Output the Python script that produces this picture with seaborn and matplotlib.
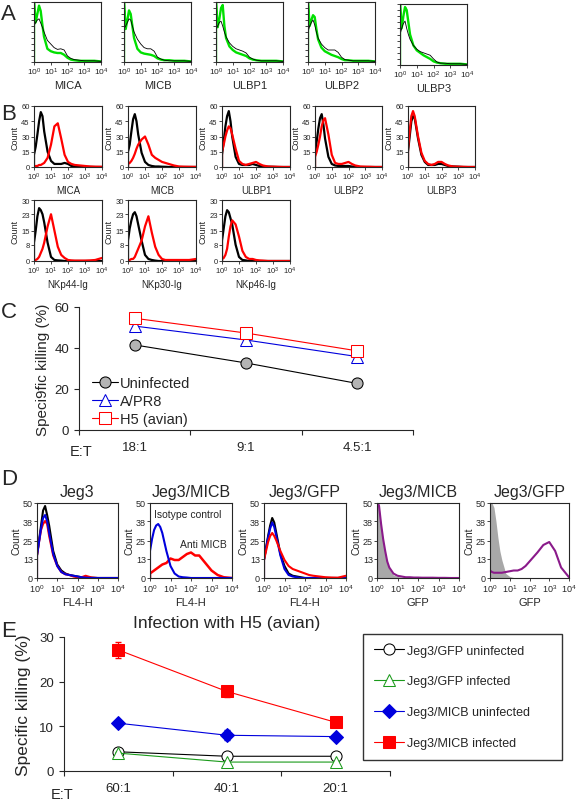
import numpy as np
import matplotlib
matplotlib.use('Agg')
import matplotlib.pyplot as plt
from matplotlib.ticker import LogLocator, NullFormatter, NullLocator
import seaborn as sns

# log10 bin positions shared by all flow histograms
LOG_BINS = [0, 0.1, 0.2, 0.3, 0.4, 0.5, 0.6, 0.8, 1.0, 1.2, 1.4, 1.6, 1.8, 2.0, 2.2, 2.4, 2.7, 3.0, 3.3, 3.6, 4.0]

# ---- panel A (relative counts)
A_NAMES = ['MICA', 'MICB', 'ULBP1', 'ULBP2', 'ULBP3']
A_MICA_K = [0.6, 0.66, 0.7, 0.72, 0.65, 0.58, 0.5, 0.36, 0.3, 0.24, 0.21, 0.22, 0.2, 0.1, 0.06, 0.04, 0.03, 0.02, 0.02, 0.02, 0.01]
A_MICA_G = [1.0, 0.66, 0.8, 0.94, 0.85, 0.62, 0.42, 0.22, 0.18, 0.16, 0.15, 0.15, 0.12, 0.07, 0.04, 0.03, 0.02, 0.02, 0.02, 0.02, 0.01]
A_MICB_K = [0.55, 0.6, 0.66, 0.72, 0.7, 0.6, 0.5, 0.38, 0.3, 0.24, 0.22, 0.22, 0.18, 0.08, 0.05, 0.03, 0.02, 0.02, 0.02, 0.02, 0.01]
A_MICB_G = [1.0, 0.55, 0.7, 0.86, 0.8, 0.6, 0.4, 0.22, 0.16, 0.14, 0.13, 0.12, 0.1, 0.06, 0.04, 0.03, 0.03, 0.02, 0.02, 0.02, 0.01]
A_ULBP1_K = [0.55, 0.6, 0.66, 0.68, 0.6, 0.5, 0.42, 0.32, 0.26, 0.22, 0.2, 0.18, 0.15, 0.08, 0.05, 0.03, 0.02, 0.02, 0.02, 0.02, 0.01]
A_ULBP1_G = [1.0, 0.58, 0.72, 0.9, 0.95, 0.6, 0.4, 0.26, 0.2, 0.16, 0.14, 0.12, 0.1, 0.06, 0.04, 0.03, 0.02, 0.02, 0.02, 0.02, 0.01]
A_ULBP2_K = [0.5, 0.6, 0.66, 0.7, 0.62, 0.5, 0.4, 0.3, 0.24, 0.2, 0.2, 0.2, 0.16, 0.08, 0.04, 0.03, 0.02, 0.02, 0.02, 0.02, 0.01]
A_ULBP2_G = [1.0, 0.6, 0.7, 0.78, 0.75, 0.55, 0.38, 0.24, 0.18, 0.15, 0.12, 0.1, 0.08, 0.05, 0.03, 0.03, 0.02, 0.02, 0.02, 0.02, 0.01]
A_ULBP3_K = [0.5, 0.6, 0.68, 0.72, 0.6, 0.5, 0.42, 0.32, 0.26, 0.22, 0.2, 0.18, 0.16, 0.1, 0.05, 0.03, 0.03, 0.02, 0.02, 0.02, 0.01]
A_ULBP3_G = [1.0, 0.6, 0.8, 0.95, 0.9, 0.7, 0.5, 0.32, 0.24, 0.2, 0.16, 0.13, 0.1, 0.06, 0.04, 0.03, 0.02, 0.02, 0.02, 0.02, 0.01]

# ---- panel B (counts)
B_NAMES = ['MICA', 'MICB', 'ULBP1', 'ULBP2', 'ULBP3', 'NKp44-Ig', 'NKp30-Ig', 'NKp46-Ig']
B_MICA_K = [12, 20, 32, 45, 54, 50, 35, 15, 6, 3, 3, 3, 4, 3, 1, 0.5, 0.3, 0.2, 0.1, 0, 0]
B_MICA_R = [0.5, 1, 1, 2, 2, 3, 4, 9, 22, 40, 43, 28, 12, 5, 3, 2, 1.5, 1, 0.5, 0.3, 0.2]
B_MICB_K = [15, 22, 35, 47, 52, 45, 32, 14, 5, 2, 1, 0.5, 0.5, 0.3, 0.2, 0, 0, 0, 0, 0, 0]
B_MICB_R = [3, 4, 6, 9, 13, 18, 22, 27, 30, 22, 12, 9, 7, 5, 4, 3, 1.5, 0.5, 0.3, 0.2, 0.1]
B_ULBP1_K = [12, 25, 40, 50, 55, 45, 30, 10, 3, 2, 2, 2, 3, 2, 1, 0.5, 0.3, 0.2, 0, 0, 0]
B_ULBP1_R = [15, 22, 30, 36, 40, 38, 32, 18, 6, 3, 2, 3, 4, 5, 3, 1.5, 0.5, 0.3, 0.2, 0, 0]
B_ULBP2_K = [12, 25, 38, 48, 52, 42, 28, 10, 3, 1.5, 1, 1, 1, 1, 0.5, 0.3, 0, 0, 0, 0, 0]
B_ULBP2_R = [10, 15, 22, 30, 40, 46, 48, 32, 12, 4, 3, 3, 4, 5, 3, 1.5, 0.5, 0.3, 0.2, 0, 0]
B_ULBP3_K = [15, 30, 45, 50, 48, 38, 28, 12, 5, 2, 2, 2, 3, 3, 2, 1, 0.5, 0.3, 0, 0, 0]
B_ULBP3_R = [18, 35, 50, 55, 50, 40, 30, 14, 6, 3, 2, 3, 5, 5, 3, 1.5, 0.5, 0.3, 0.2, 0, 0]
B_NKP44_K = [9, 15, 22, 26, 25, 23, 19, 9, 2, 0.5, 0.3, 0.2, 0, 0, 0, 0, 0, 0, 0, 0, 0]
B_NKP44_R = [0.5, 0.5, 1, 2, 4, 6, 9, 17, 23, 15, 7, 3, 1.5, 0.5, 0.3, 0.2, 0.2, 0.2, 0.3, 0.5, 1.5]
B_NKP30_K = [10, 16, 20, 23, 24, 22, 18, 10, 3, 1, 0.5, 0.2, 0, 0, 0, 0, 0, 0, 0, 0, 0]
B_NKP30_R = [0.5, 0.5, 1, 1, 2, 4, 6, 10, 17, 22, 14, 7, 3, 1, 0.5, 0.5, 0.5, 0.5, 0.5, 0.5, 1]
B_NKP46_K = [10, 16, 22, 25, 24, 21, 18, 8, 2, 0.5, 0.3, 0, 0, 0, 0, 0, 0, 0, 0, 0, 0]
B_NKP46_R = [1, 1.5, 3, 6, 12, 17, 20, 18, 12, 5, 2, 1, 1, 0.5, 0.3, 0.2, 0, 0, 0, 0, 0]

# ---- panel C
C_RATIOS = ['18:1', '9:1', '4.5:1']
C_UNINFECTED = [41.5, 32.7, 22.7]
C_APR8 = [50.7, 43.9, 35.8]
C_H5 = [54.5, 47.3, 38.6]

# ---- panel D (counts)
D_TITLES = ['Jeg3', 'Jeg3/MICB', 'Jeg3/GFP', 'Jeg3/MICB', 'Jeg3/GFP']
D_XLABELS = ['FL4-H', 'FL4-H', 'FL4-H', 'GFP', 'GFP']
D_JEG3_K = [15, 25, 35, 45, 48, 42, 35, 18, 9, 5, 3, 2, 1.5, 1, 0.5, 0.3, 0.2, 0, 0, 0, 0]
D_JEG3_R = [15, 24, 32, 36, 38, 36, 28, 15, 8, 4, 2.5, 2, 1, 0.5, 0.5, 1.5, 0.3, 0, 0, 0, 0]
D_JEG3_B = [15, 24, 33, 40, 42, 38, 30, 16, 8, 4, 2.5, 2, 1.5, 1, 0.5, 0.2, 0, 0, 0, 0, 0]
D_MICB_ISO = [18, 26, 32, 35, 36, 34, 30, 18, 8, 3, 1, 0.5, 0.3, 0, 0, 0, 0, 0, 0, 0, 0]
D_MICB_ANTI = [3, 4, 5, 6, 7, 8, 9, 10, 13, 12, 12, 14, 16, 17, 15, 15, 10, 5, 2, 0.5, 0]
D_GFP_K = [12, 20, 28, 35, 40, 37, 30, 16, 8, 3, 1.5, 1, 0.5, 0, 0, 0, 0, 0, 0, 0, 0]
D_GFP_B = [12, 20, 27, 33, 37, 34, 28, 15, 6, 2, 1, 0.5, 0, 0, 0, 0, 0, 0, 0, 0, 0]
D_GFP_R = [12, 18, 24, 28, 30, 28, 25, 18, 12, 8, 6, 5, 4, 3, 2, 1.5, 1, 0.5, 0.3, 0.2, 1.5]
D_MICB_GFP_CTRL = [52, 48, 35, 25, 17, 10, 6, 2, 1, 0.5, 0.3, 0, 0, 0, 0, 0, 0, 0, 0, 0, 0]
D_MICB_GFP = [52, 48, 36, 26, 18, 11, 7, 3, 1.5, 1, 0.5, 0.5, 0.3, 0.3, 0.2, 0.2, 0.2, 0.1, 0.1, 0, 0]
D_GFP_GFP_CTRL = [52, 50, 47, 38, 27, 18, 12, 3, 1, 0.3, 0, 0, 0, 0, 0, 0, 0, 0, 0, 0, 0]
D_GFP_GFP = [5, 4, 3.5, 3.5, 3.5, 3.5, 3.5, 4, 4.5, 5, 5, 6, 8, 11, 14, 17, 22, 24, 18, 7, 0.5]

# ---- panel E
E_RATIOS = ['60:1', '40:1', '20:1']
E_GFP_UNINF = [4.3, 3.3, 3.3]
E_GFP_UNINF_ERR = [0.2, 0.2, 0.2]
E_GFP_INF = [4.0, 2.0, 2.0]
E_GFP_INF_ERR = [0.3, 0.3, 0.3]
E_MICB_UNINF = [10.7, 8.0, 7.7]
E_MICB_UNINF_ERR = [0.4, 1.1, 0.3]
E_MICB_INF = [27.1, 17.8, 10.9]
E_MICB_INF_ERR = [1.7, 1.3, 1.0]

W, H = 576, 804
BLACK, RED, BLUE, GREEN = 'black', '#ff0000', '#0000dd', '#00e000'
PURPLE, GREY = '#8a1a8a', '#a8a8a8'

sns.set_style('ticks')
plt.rcParams['font.family'] = ['Liberation Sans', 'DejaVu Sans']
plt.rcParams['axes.linewidth'] = 0.8

fig = plt.figure(figsize=(W / 100, H / 100), dpi=100)


def px_axes(x0, y0, x1, y1):
    return fig.add_axes([x0 / W, 1 - y1 / H, (x1 - x0) / W, (y1 - y0) / H])


def flow_axes(ax, ymax, yticks, xlabel, fs, minor=False):
    ax.set_xscale('log')
    ax.set_xlim(1, 1e4)
    ax.set_ylim(0, ymax)
    ax.set_xticks([1, 10, 100, 1000, 10000])
    if minor:
        ax.xaxis.set_minor_locator(LogLocator(base=10, subs=np.arange(2, 10)))
        ax.xaxis.set_minor_formatter(NullFormatter())
    else:
        ax.xaxis.set_minor_locator(NullLocator())
    if yticks is None:
        ax.set_yticks(np.linspace(0, ymax, 11))
        ax.set_yticklabels([])
    else:
        ax.set_yticks(yticks)
        ax.set_yticklabels([str(t) for t in yticks])
        ax.set_ylabel('Count', fontsize=fs + 1, labelpad=1)
    ax.tick_params(length=2, width=0.6, labelsize=fs, pad=1)
    ax.tick_params(which='minor', length=1.2, width=0.5)
    ax.set_xlabel(xlabel, fontsize=fs + 1.5, labelpad=2)


def flow_line(ax, counts, color, lw=1.5):
    x = np.concatenate([[1.0], 10 ** np.array(LOG_BINS)])
    y = np.concatenate([[0.0], counts])
    sns.lineplot(x=x, y=y, ax=ax, color=color, lw=lw, estimator=None, sort=False)


def flow_fill(ax, counts):
    x = np.concatenate([[1.0], 10 ** np.array(LOG_BINS)])
    y = np.concatenate([[0.0], counts])
    ax.fill_between(x, 0, y, color=GREY, lw=0)


def ratio_axis(ax, ratios, ymax, yticks):
    pos = np.arange(len(ratios))
    ax.set_xlim(-0.5, len(ratios) - 0.5)
    ax.set_ylim(0, ymax)
    ax.set_yticks(yticks)
    ax.set_xticks(np.arange(len(ratios) + 1) - 0.5)
    ax.set_xticklabels([])
    ax.set_xticks(pos, minor=True)
    ax.set_xticklabels(ratios, minor=True)
    ax.tick_params(axis='x', which='minor', length=0, pad=8, labelsize=9.5)
    ax.tick_params(axis='both', which='major', length=3.5, width=0.8, labelsize=9.5)
    sns.despine(ax=ax)


# ---------------- panel A
a_boxes = [(34, 3, 101, 63), (124, 3, 191, 63), (216, 3, 283, 63), (308, 3, 375, 63), (400, 5, 467, 66)]
a_ctrl = [A_MICA_K, A_MICB_K, A_ULBP1_K, A_ULBP2_K, A_ULBP3_K]
a_stain = [A_MICA_G, A_MICB_G, A_ULBP1_G, A_ULBP2_G, A_ULBP3_G]
for box, name, k, g in zip(a_boxes, A_NAMES, a_ctrl, a_stain):
    ax = px_axes(*box)
    flow_line(ax, g, GREEN, lw=1.7)
    flow_line(ax, k, BLACK, lw=0.6)
    flow_axes(ax, 1.0, None, name, 6, minor=True)
    ax.xaxis.label.set_size(8)

# ---------------- panel B
b_x = [(34, 102), (128, 196), (222, 290), (315, 382), (408, 475)]
b_boxes = [(x0, 107, x1, 168) for x0, x1 in b_x] + [(x0, 201, x1, 262) for x0, x1 in b_x[:3]]
b_ctrl = [B_MICA_K, B_MICB_K, B_ULBP1_K, B_ULBP2_K, B_ULBP3_K, B_NKP44_K, B_NKP30_K, B_NKP46_K]
b_stain = [B_MICA_R, B_MICB_R, B_ULBP1_R, B_ULBP2_R, B_ULBP3_R, B_NKP44_R, B_NKP30_R, B_NKP46_R]
for i, (box, name, k, r) in enumerate(zip(b_boxes, B_NAMES, b_ctrl, b_stain)):
    ax = px_axes(*box)
    flow_line(ax, k, BLACK, lw=1.6)
    flow_line(ax, r, RED, lw=1.6)
    if i < 5:
        flow_axes(ax, 60, [0, 15, 30, 45, 60], name, 5.5)
    else:
        flow_axes(ax, 30, [0, 8, 15, 23, 30], name, 5.5)

# ---------------- panel C
ax = px_axes(79, 308, 413, 431)
pos = np.arange(len(C_RATIOS))
sns.lineplot(x=pos, y=C_UNINFECTED, ax=ax, color=BLACK, lw=0.8, marker='o', markersize=8,
             markerfacecolor='#b4b4b4', markeredgecolor=BLACK, label='Uninfected')
sns.lineplot(x=pos, y=C_APR8, ax=ax, color=BLUE, lw=0.8, marker='^', markersize=8,
             markerfacecolor='white', markeredgecolor=BLUE, label='A/PR8')
sns.lineplot(x=pos, y=C_H5, ax=ax, color=RED, lw=0.8, marker='s', markersize=8,
             markerfacecolor='white', markeredgecolor=RED, label='H5 (avian)')
ratio_axis(ax, C_RATIOS, 60, [0, 20, 40, 60])
ax.set_ylabel('Speci9fic killing (%)', fontsize=11, labelpad=3)
ax.legend(loc='lower left', bbox_to_anchor=(0.026, 0.0), frameon=False, fontsize=10.5,
          handlelength=1.8, handletextpad=0.1, labelspacing=0.25, borderpad=0.0, borderaxespad=0.3)
fig.text(70 / W, 1 - 452 / H, 'E:T', fontsize=10.5, va='center')

# ---------------- panel D
d_x = [(37, 118), (150, 232), (264, 346), (377, 459), (490, 569)]
d_axes = [px_axes(x0, 504, x1, 579) for x0, x1 in d_x]
ax = d_axes[0]
flow_line(ax, D_JEG3_K, BLACK)
flow_line(ax, D_JEG3_R, RED)
flow_line(ax, D_JEG3_B, BLUE)
ax = d_axes[1]
flow_line(ax, D_MICB_ANTI, RED, lw=1.8)
flow_line(ax, D_MICB_ISO, BLUE)
ax.text(0.05, 0.85, 'Isotype control', transform=ax.transAxes, fontsize=7.5, va='center')
ax.text(0.37, 0.45, 'Anti MICB', transform=ax.transAxes, fontsize=7.5, va='center')
ax = d_axes[2]
flow_line(ax, D_GFP_K, BLACK)
flow_line(ax, D_GFP_B, BLUE)
flow_line(ax, D_GFP_R, RED)
ax = d_axes[3]
flow_fill(ax, D_MICB_GFP_CTRL)
flow_line(ax, D_MICB_GFP, PURPLE)
ax = d_axes[4]
flow_fill(ax, D_GFP_GFP_CTRL)
flow_line(ax, D_GFP_GFP, PURPLE)
for ax, title, xl in zip(d_axes, D_TITLES, D_XLABELS):
    flow_axes(ax, 50, [0, 13, 25, 38, 50], xl, 6.5)
    ax.xaxis.label.set_size(8)
    ax.set_title(title, fontsize=11.5, pad=5)

# ---------------- panel E
ax = px_axes(64, 638, 390, 772)
pos = np.arange(len(E_RATIOS))
series = [
    (E_GFP_UNINF, E_GFP_UNINF_ERR, 'Jeg3/GFP uninfected', BLACK, 'o', 'white'),
    (E_GFP_INF, E_GFP_INF_ERR, 'Jeg3/GFP infected', '#1a9a1a', '^', 'white'),
    (E_MICB_UNINF, E_MICB_UNINF_ERR, 'Jeg3/MICB uninfected', BLUE, 'D', BLUE),
    (E_MICB_INF, E_MICB_INF_ERR, 'Jeg3/MICB infected', RED, 's', RED),
]
for vals, err, lab, col, mk, fc in series:
    ax.errorbar(pos, vals, yerr=err, fmt='none', ecolor=col, elinewidth=0.8, capsize=2)
    sns.lineplot(x=pos, y=vals, ax=ax, color=col, lw=0.8, marker=mk,
                 markersize=8 if mk != 'D' else 7, markerfacecolor=fc, markeredgecolor=col, label=lab)
ratio_axis(ax, E_RATIOS, 30, [0, 10, 20, 30])
ax.set_ylabel('Specific killing (%)', fontsize=12.5, labelpad=6)
ax.set_title('Infection with H5 (avian)', fontsize=12.5, pad=7)
handles, labels = ax.get_legend_handles_labels()
ax.get_legend().remove()
leg = fig.legend(handles, labels, loc='upper left', mode='expand',
                 bbox_to_anchor=(363 / W, 1 - 757 / H, 199 / W, 122 / H), borderaxespad=0,
                 fontsize=9, frameon=True, fancybox=False, edgecolor=BLACK, handlelength=2.4,
                 labelspacing=1.5, borderpad=0.85, handletextpad=0.3)
leg.get_frame().set_linewidth(1.0)
fig.text(51 / W, 1 - 795 / H, 'E:T', fontsize=10.5, va='center')

# panel letters
for letter, y in zip('ABCDE', [14, 115, 313, 480, 632]):
    fig.text(1 / W, 1 - y / H, letter, fontsize=16, va='center')

fig.savefig('out.png', dpi=100)
